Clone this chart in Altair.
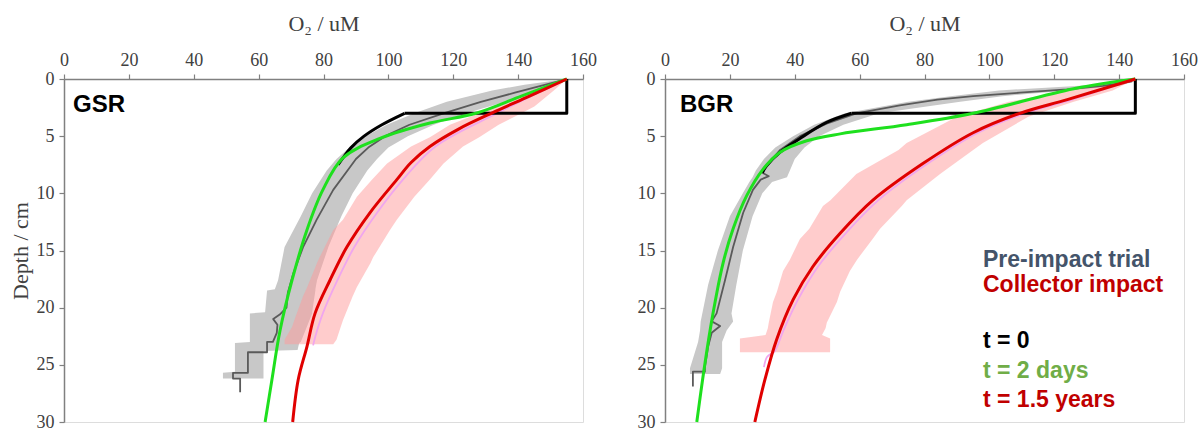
import altair as alt
import pandas as pd

X_TICKS = [0, 20, 40, 60, 80, 100, 120, 140, 160]
Y_TICKS = [0, 5, 10, 15, 20, 25, 30]

# ---------------- GSR (left panel) ----------------
GSR_GRAY_DEPTH = [0, 0.5, 1, 2, 3, 4, 5, 6, 7, 8, 10, 12, 14.7, 17.6, 18.4, 18.5, 20.4, 20.5, 23, 23.1, 23.7, 23.8, 25.6, 25.7, 26.2]
GSR_GRAY_LO = [155, 142, 132, 118, 108, 99.5, 93, 88, 84, 81, 76.5, 73, 68, 66, 65, 62.6, 62, 57.3, 57.3, 52.7, 52.7, 52.7, 52.7, 49, 49]
GSR_GRAY_HI = [155, 150, 146, 136, 124, 114, 106, 100, 96.5, 93.5, 89, 85.5, 81.5, 78, 77.5, 77.5, 76.5, 76.5, 73, 72.5, 72, 61.5, 61.5, 61.5, 61.5]

GSR_PINK_DEPTH = [0, 1, 2.4, 3, 4, 5.1, 5.9, 7.4, 8.8, 10.3, 12.3, 13.2, 15.6, 16.1, 18.2, 19, 21.1, 21.7, 22.8, 23.2]
GSR_PINK_LO = [155, 144, 133.5, 128, 119, 112.8, 107, 99.6, 95, 90.3, 86, 83, 78.8, 78, 75, 73.7, 71, 70.3, 68, 68]
GSR_PINK_HI = [155, 151, 145, 141, 134, 128, 123, 117, 112.8, 108, 102.6, 100.5, 95.3, 94.5, 90.3, 89, 86, 85.3, 84, 83]

GSR_MEAN_DEPTH = [0, 0.6, 1.2, 2, 3, 4, 5, 6, 7, 7.7, 9.7, 12.3, 14.7, 17, 18.7, 20, 20.6, 21, 21.5, 22.2, 23, 23, 23.9, 23.9, 25.7, 25.7, 26.2, 26.2, 27.4]
GSR_MEAN_O2 = [155, 147, 139, 128.5, 117, 106.5, 99, 93.8, 90, 88.2, 83, 77.9, 73.7, 70.7, 69, 68.6, 66.5, 64.5, 65.8, 65.6, 64.4, 62.6, 62.6, 56.7, 56.7, 52.1, 52.1, 54.3, 54.3]

GSR_IMPACT_DEPTH = [0, 3, 5.9, 8.8, 11.7, 14.7, 17.6, 20.5, 22.5, 23.3]
GSR_IMPACT_O2 = [155, 133.5, 114.5, 104.5, 96.5, 89.5, 84.3, 79.8, 77.5, 76.8]

GSR_T0_STEP_DEPTH = [0, 3, 3]
GSR_T0_STEP_O2 = [155, 155, 105]
GSR_T0_CURVE_DEPTH = [3, 4, 5, 6, 6.9, 7.5]
GSR_T0_CURVE_O2 = [105, 98, 92.5, 88.5, 86, 84.5]

GSR_T2D_DEPTH = [0, 1.5, 3, 3.85, 5.2, 6.9, 9.7, 13.2, 17.6, 22, 26.3, 30]
GSR_T2D_O2 = [155, 141, 127, 112.8, 97.4, 86, 79.8, 74.9, 70.3, 66.6, 64.1, 62]

GSR_T15Y_DEPTH = [0, 1.5, 2.9, 4.4, 5.9, 7.3, 8.8, 11.7, 14.7, 17.6, 20.5, 23.4, 26.3, 30]
GSR_T15Y_O2 = [155, 143.5, 132.5, 121.5, 112.8, 107, 102.6, 94.3, 87.2, 82, 77.4, 74.9, 72.2, 70.5]

# ---------------- BGR (right panel) ----------------
BGR_GRAY_DEPTH = [0.2, 0.6, 1, 1.5, 2, 3, 4, 5, 6, 7, 8, 8.6, 9, 10, 12, 15, 18, 20.5, 21.2, 22, 23, 25.3, 25.8]
BGR_GRAY_LO = [143, 128, 103, 88, 75, 55.5, 46, 39.5, 34, 30.5, 28, 27, 26, 24, 20, 16.3, 13.3, 11.5, 11, 10.8, 10.2, 7.7, 7.7]
BGR_GRAY_HI = [145, 140, 124, 104, 91, 66, 55, 47.5, 43, 40, 38.5, 37.6, 33, 30, 27, 24, 22, 20.5, 21, 19, 17.6, 17.6, 17]

BGR_PINK_DEPTH = [0, 1, 2, 3.3, 5.6, 6.2, 8.3, 10.6, 11.1, 13.1, 14, 15.8, 16.8, 18.6, 19.5, 21.3, 21.8, 22.4, 22.7, 23.9]
BGR_PINK_LO = [145, 124, 106, 90, 74.5, 72, 59, 51, 48.7, 44.5, 41.6, 38.5, 36.4, 34.5, 33.3, 32, 31.7, 31, 23.1, 23.1]
BGR_PINK_HI = [145, 138, 126, 112, 98, 95, 84.8, 74.5, 73, 66.3, 64, 59.2, 57, 54, 53, 49.9, 49.5, 48.4, 50.9, 50.9]

BGR_MEAN_DEPTH = [0.2, 0.6, 0.9, 1.2, 1.5, 1.8, 2.3, 3, 3.9, 5, 6.2, 7.6, 8.2, 8.5, 8.8, 9.7, 11.7, 14.7, 17.6, 20.5, 21.2, 21.6, 22.2, 23.4, 25.2, 25.6, 25.6, 26.9]
BGR_MEAN_O2 = [144, 135, 124, 109.4, 95, 84, 72.4, 59, 49.8, 41.6, 35.5, 31.3, 30, 32, 29.5, 27.1, 24.1, 21, 18.5, 15.9, 14.4, 17, 14.4, 13.3, 12.3, 12.3, 8.6, 8.6]

BGR_IMPACT_DEPTH = [0, 1.8, 3, 4.7, 7.4, 10.6, 13.5, 16.4, 19.3, 22, 23.8, 24.3, 25.2]
BGR_IMPACT_O2 = [145, 125.5, 111, 96.5, 81, 65.8, 55.7, 47.2, 41, 36.5, 33.8, 31.5, 30.5]

BGR_T0_STEP_DEPTH = [0, 3, 3]
BGR_T0_STEP_O2 = [145, 145, 57.5]
BGR_T0_CURVE_DEPTH = [3, 3.8, 5.2, 6.4, 7.6, 8.2]
BGR_T0_CURVE_O2 = [57.5, 49.8, 41.6, 35.5, 31.3, 30]

BGR_T2D_DEPTH = [0, 0.85, 3, 4, 4.8, 5.4, 6.4, 7.9, 10.2, 13.1, 16.1, 20.5, 24.9, 30]
BGR_T2D_O2 = [145, 126, 95, 74.5, 54, 43.7, 35.5, 30.2, 25.2, 21, 17.9, 14.8, 12.3, 9.8]

BGR_T15Y_DEPTH = [0, 1.8, 3, 4.7, 7.4, 10.6, 13.5, 16.4, 19.3, 22.8, 26.3, 30]
BGR_T15Y_O2 = [145, 124, 109.4, 95, 79.5, 64.1, 54, 45.6, 39.5, 34.4, 30.8, 27.7]

LEGEND_TEXT = ["Pre-impact trial", "Collector impact", "t = 0", "t = 2 days", "t = 1.5 years"]
LEGEND_COLOR = ["#44546A", "#C00000", "#000000", "#70AD47", "#C00000"]

SERIF = "Liberation Serif"
SANS = "Liberation Sans"
W, H = 519, 343


def line_df(depth, o2):
    return pd.DataFrame({"depth": depth, "o2": o2, "idx": list(range(len(depth)))})


def band_df(depth, lo, hi):
    return pd.DataFrame({"depth": depth, "lo": lo, "hi": hi})


xscale = alt.Scale(domain=[0, 160], nice=False, zero=False)
yscale = alt.Scale(domain=[0, 30], reverse=True, nice=False, zero=False)


def xaxis():
    return alt.Axis(orient="top", values=X_TICKS, title="O₂ / uM", grid=False,
                    labelFont=SERIF, labelFontSize=18, labelColor="#404040", labelPadding=5,
                    titleFont=SERIF, titleFontSize=22, titleFontWeight="normal", titleColor="#404040",
                    titlePadding=16, domainColor="#808080", domainWidth=1.5,
                    tickColor="#808080", tickWidth=1.2, tickSize=5, labelFlush=False)


def yaxis(show_title):
    kw = dict(values=Y_TICKS, grid=False, labelFont=SERIF, labelFontSize=18, labelColor="#404040",
              labelPadding=5, domainColor="#808080", domainWidth=1.5, tickColor="#808080",
              tickWidth=1.2, tickSize=5, labelFlush=False)
    if show_title:
        kw.update(title="Depth / cm", titleFont=SERIF, titleFontSize=22, titleFontWeight="normal",
                  titleColor="#404040", titlePadding=4)
    else:
        kw.update(title=None)
    return alt.Axis(**kw)


def panel(label, label_x, gray, pink, mean, impact, t0s, t0c, t2d, t15y, show_ytitle, legend):
    X = lambda f: alt.X(f, scale=xscale, axis=xaxis())
    Y = alt.Y("depth:Q", scale=yscale, axis=yaxis(show_ytitle))

    def band(df, color, opacity):
        return alt.Chart(df).mark_area(orient="horizontal", color=color, opacity=opacity).encode(
            x=X("lo:Q"), x2=alt.X2("hi"), y=Y)

    def line(df, color, width, interp="linear"):
        return alt.Chart(df).mark_line(color=color, strokeWidth=width, interpolate=interp,
                                       strokeJoin="round").encode(
            x=X("o2:Q"), y=Y, order="idx:Q")

    layers = [
        band(gray, "#c8c8c8", 1.0),
        band(pink, "#ff9a9a", 0.5),
        line(mean, "#5a5a5a", 1.8),
        line(impact, "#f0a6ee", 1.8, "catmull-rom"),
        line(t0s, "#000000", 3),
        line(t0c, "#000000", 3, "catmull-rom"),
        line(t2d, "#1ee01e", 3, "catmull-rom"),
        line(t15y, "#e00000", 3, "catmull-rom"),
    ]
    lab = alt.Chart(pd.DataFrame({"t": [label]})).mark_text(
        align="left", baseline="alphabetic", font=SANS, fontWeight="bold", fontSize=24,
        color="#000000").encode(x=alt.value(label_x), y=alt.value(33), text="t:N")
    layers.append(lab)
    if legend:
        ypos = [188, 213, 269, 299, 328]
        for txt, col, yp in zip(LEGEND_TEXT, LEGEND_COLOR, ypos):
            layers.append(alt.Chart(pd.DataFrame({"t": [txt]})).mark_text(
                align="left", baseline="alphabetic", font=SANS, fontWeight="bold", fontSize=23,
                color=col).encode(x=alt.value(318), y=alt.value(yp), text="t:N"))
    return alt.layer(*layers).properties(width=W, height=H)


left = panel("GSR", 9,
             band_df(GSR_GRAY_DEPTH, GSR_GRAY_LO, GSR_GRAY_HI),
             band_df(GSR_PINK_DEPTH, GSR_PINK_LO, GSR_PINK_HI),
             line_df(GSR_MEAN_DEPTH, GSR_MEAN_O2),
             line_df(GSR_IMPACT_DEPTH, GSR_IMPACT_O2),
             line_df(GSR_T0_STEP_DEPTH, GSR_T0_STEP_O2),
             line_df(GSR_T0_CURVE_DEPTH, GSR_T0_CURVE_O2),
             line_df(GSR_T2D_DEPTH, GSR_T2D_O2),
             line_df(GSR_T15Y_DEPTH, GSR_T15Y_O2),
             True, False)

right = panel("BGR", 15,
              band_df(BGR_GRAY_DEPTH, BGR_GRAY_LO, BGR_GRAY_HI),
              band_df(BGR_PINK_DEPTH, BGR_PINK_LO, BGR_PINK_HI),
              line_df(BGR_MEAN_DEPTH, BGR_MEAN_O2),
              line_df(BGR_IMPACT_DEPTH, BGR_IMPACT_O2),
              line_df(BGR_T0_STEP_DEPTH, BGR_T0_STEP_O2),
              line_df(BGR_T0_CURVE_DEPTH, BGR_T0_CURVE_O2),
              line_df(BGR_T2D_DEPTH, BGR_T2D_O2),
              line_df(BGR_T15Y_DEPTH, BGR_T15Y_O2),
              False, True)

chart = alt.hconcat(left, right, spacing=82, bounds="flush").properties(
    padding={"left": 8, "top": 11, "right": 5, "bottom": 5}
).resolve_scale(x="independent", y="independent").configure_view(stroke=None).configure(background="#ffffff")

chart.save("out.html", embed_options={"renderer": "svg", "actions": False})
